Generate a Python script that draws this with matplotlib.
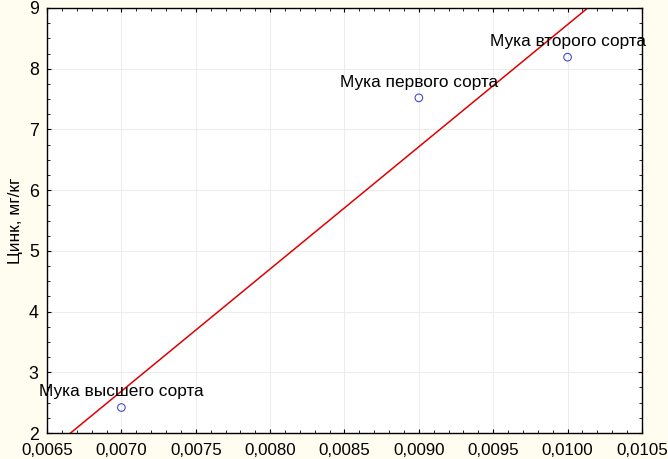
import matplotlib
matplotlib.use("Agg")
import matplotlib.pyplot as plt
import numpy as np
from matplotlib.ticker import MultipleLocator, AutoMinorLocator, FuncFormatter

# Данные
sorta = ["Мука высшего сорта", "Мука первого сорта", "Мука второго сорта"]
x_vals = [0.0070, 0.0090, 0.0100]
zinc = [2.42, 7.52, 8.19]

plt.rcParams['font.family'] = ['Liberation Sans', 'DejaVu Sans']

fig = plt.figure(figsize=(6.68, 4.59), dpi=100, facecolor='#fffcf0')
ax = fig.add_axes([0.0704, 0.0566, 0.8906, 0.926])
ax.set_facecolor('white')

# Линия регрессии
k, b = np.polyfit(x_vals, zinc, 1)
xl = np.array([0.0060, 0.0110])
ax.plot(xl, k * xl + b, color='#e00000', lw=1.1, zorder=2)

ax.scatter(x_vals, zinc, s=30, facecolors='none', edgecolors='#4a4acc', linewidths=0.8, zorder=3)
for name, x, y in zip(sorta, x_vals, zinc):
    ax.annotate(name, (x, y), xytext=(0, 6), textcoords='offset points',
                ha='center', va='bottom', fontsize=12.4, zorder=4)

ax.set_xlim(0.0065, 0.0105)
ax.set_ylim(2, 9)
ax.xaxis.set_major_locator(MultipleLocator(0.0005))
ax.xaxis.set_minor_locator(AutoMinorLocator(5))
ax.yaxis.set_major_locator(MultipleLocator(1))
ax.yaxis.set_minor_locator(AutoMinorLocator(4))
ax.xaxis.set_major_formatter(FuncFormatter(lambda v, p: f"{v:.4f}".replace('.', ',')))
ax.yaxis.set_major_formatter(FuncFormatter(lambda v, p: f"{v:.0f}"))

ax.tick_params(which='both', direction='in', top=True, right=True)
ax.tick_params(which='major', length=3, width=0.8)
ax.tick_params(which='minor', length=2, width=0.6)
ax.tick_params(axis='x', which='major', pad=7, labelsize=12.2)
ax.tick_params(axis='y', which='major', pad=6, labelsize=12.8)
ax.grid(True, which='major', color='#ededed', lw=0.8, zorder=0)
for s in ax.spines.values():
    s.set_linewidth(1.0)
    s.set_color('black')

ax.set_ylabel("Цинк, мг/кг", fontsize=12.4, labelpad=4)

fig.savefig("out.png", dpi=100, facecolor=fig.get_facecolor())
